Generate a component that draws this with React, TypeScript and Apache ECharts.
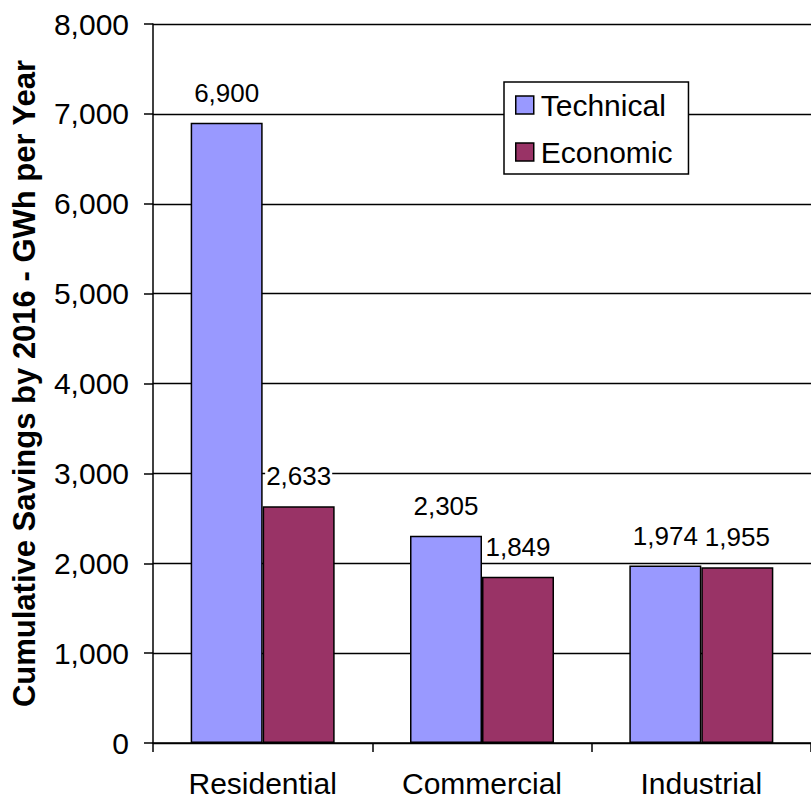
import React, { useEffect, useRef } from "react";
import * as echarts from "echarts";

const categories = ["Residential", "Commercial", "Industrial"];
const technical = [6900, 2305, 1974];
const economic = [2633, 1849, 1955];
const seriesNames = ["Technical", "Economic"];
const yAxisTitle = "Cumulative Savings by 2016 - GWh per Year";

const FONT = "Liberation Sans, Arial, sans-serif";

export default function App() {
  const ref = useRef<HTMLDivElement>(null);
  useEffect(() => {
    const chart = echarts.init(ref.current!, null, { renderer: "svg" });
    const labelOpt = {
      show: true,
      position: "top",
      distance: 15,
      fontFamily: FONT,
      fontSize: 26,
      color: "#000",
      backgroundColor: "#fff",
      padding: [2, 1],
      formatter: (p: any) => p.value.toLocaleString("en-US"),
    };
    chart.setOption({
      animation: false,
      backgroundColor: "#fff",
      grid: { left: 153, top: 24, bottom: 56, right: -7, containLabel: false },
      legend: {
        data: seriesNames,
        orient: "vertical",
        left: 504,
        top: 82,
        itemWidth: 18,
        itemHeight: 18,
        itemGap: 17,
        padding: [8, 16, 7, 11],
        backgroundColor: "#fff",
        borderColor: "#000",
        borderWidth: 1.5,
        borderRadius: 0,
        icon: "rect",
        textStyle: { fontFamily: FONT, fontSize: 30, color: "#000", padding: [0, 0, 0, 2] },
        itemStyle: { borderColor: "#000", borderWidth: 1.5 },
      },
      xAxis: {
        type: "category",
        data: categories,
        axisLine: { show: true, lineStyle: { color: "#000", width: 1.5 } },
        axisTick: { show: true, length: 9, lineStyle: { color: "#000", width: 1.5 } },
        axisLabel: { fontFamily: FONT, fontSize: 30, color: "#000", margin: 25 },
        splitLine: { show: false },
      },
      yAxis: {
        type: "value",
        min: 0,
        max: 8000,
        interval: 1000,
        name: yAxisTitle,
        nameLocation: "middle",
        nameGap: 113,
        nameTextStyle: { fontFamily: FONT, fontSize: 31, fontWeight: "bold", color: "#000" },
        axisLine: { show: true, lineStyle: { color: "#000", width: 1.5 } },
        axisTick: { show: true, inside: false, length: 9, lineStyle: { color: "#000", width: 1.5 } },
        axisLabel: {
          fontFamily: FONT,
          fontSize: 30,
          color: "#000",
          margin: 24,
          formatter: (v: number) => v.toLocaleString("en-US"),
        },
        splitLine: { show: true, lineStyle: { color: "#000", width: 1.3 } },
      },
      series: [
        {
          name: seriesNames[0],
          type: "bar",
          data: technical,
          barWidth: 72,
          barGap: "0%",
          itemStyle: { color: "#9999FF", borderColor: "#000", borderWidth: 1.5 },
          label: labelOpt,
        },
        {
          name: seriesNames[1],
          type: "bar",
          data: economic,
          barWidth: 72,
          barGap: "0%",
          itemStyle: { color: "#993366", borderColor: "#000", borderWidth: 1.5 },
          label: labelOpt,
        },
      ],
    });
    return () => chart.dispose();
  }, []);
  return <div ref={ref} style={{ width: 811, height: 799, position: "absolute", left: 0, top: 0 }} />;
}
